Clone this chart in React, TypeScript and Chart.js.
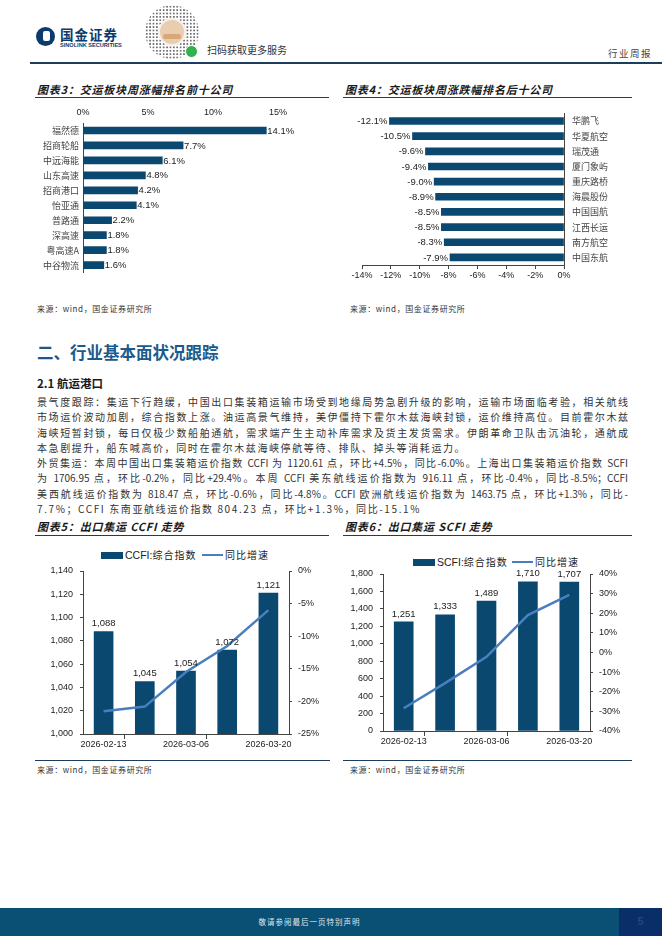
import React, { useEffect, useRef } from 'react';
import { Chart, registerables } from 'chart.js';

Chart.register(...registerables);

// ---------- data ----------
const topCompanies = ['福然德', '招商轮船', '中远海能', '山东高速', '招商港口', '怡亚通', '普路通', '深高速', '粤高速A', '中谷物流'];
const topChanges = [14.1, 7.7, 6.1, 4.8, 4.2, 4.1, 2.2, 1.8, 1.8, 1.6];
const bottomCompanies = ['华鹏飞', '华夏航空', '瑞茂通', '厦门象屿', '重庆路桥', '海晨股份', '中国国航', '江西长运', '南方航空', '中国东航'];
const bottomChanges = [-12.1, -10.5, -9.6, -9.4, -9.0, -8.9, -8.5, -8.5, -8.3, -7.9];
const weeks = ['2026-02-13', '2026-02-27', '2026-03-06', '2026-03-13', '2026-03-20'];
const ccfiIndex = [1088, 1045, 1054, 1072, 1121];
const ccfiYoY = [-21.5, -20.8, -15.5, -11.5, -6.0];
const scfiIndex = [1251, 1333, 1489, 1710, 1707];
const scfiYoY = [-28.4, -15.6, -2.2, 19.1, 29.4];

// ---------- styles ----------
const BAR = '#0b4870';
const LINE = '#4a7fbf';
const AXIS = '#444';
const CJK = '"Noto Sans CJK SC", sans-serif';
const NUM = '"Liberation Sans", Arial, sans-serif';

const fmtComma = (v: number) => Math.round(v).toLocaleString('en-US');
const fmtPct = (v: number) => v.toFixed(1) + '%';

function makeLabelPlugin(id: string, mode: 'top' | 'right' | 'left', offset: number, fmt: (v: number) => string) {
  return {
    id,
    afterDatasetsDraw(chart: any) {
      const ctx = chart.ctx;
      const meta = chart.getDatasetMeta(0);
      const ds = chart.data.datasets[0];
      ctx.save();
      ctx.font = '9.5px ' + NUM;
      ctx.fillStyle = '#222';
      meta.data.forEach((el: any, i: number) => {
        const v = ds.data[i] as number;
        const t = fmt(v);
        const p = el.getProps(['x', 'y', 'base'], true);
        if (mode === 'right') {
          ctx.textAlign = 'left';
          ctx.textBaseline = 'middle';
          ctx.fillText(t, p.x + offset, p.y + 0.5);
        } else if (mode === 'left') {
          ctx.textAlign = 'right';
          ctx.textBaseline = 'middle';
          ctx.fillText(t, p.x - offset, p.y + 0.5);
        } else {
          ctx.textAlign = 'center';
          ctx.textBaseline = 'middle';
          ctx.fillText(t, p.x, p.y - offset);
        }
      });
      ctx.restore();
    },
  };
}

function ChartBox({ left, top, width, height, build }: { left: number; top: number; width: number; height: number; build: () => any }) {
  const ref = useRef<HTMLCanvasElement>(null);
  useEffect(() => {
    const chart = new Chart(ref.current as HTMLCanvasElement, build());
    return () => chart.destroy();
  }, []);
  return (
    <div style={{ position: 'absolute', left, top, width, height }}>
      <canvas ref={ref} width={width} height={height} style={{ width, height, display: 'block' }} />
    </div>
  );
}

const tickFont = { family: NUM, size: 9 };
const cjkFont = { family: CJK, size: 9 };

function buildTop() {
  return {
    type: 'bar',
    data: {
      labels: topCompanies,
      datasets: [{ data: topChanges, backgroundColor: BAR, barThickness: 7 }],
    },
    plugins: [makeLabelPlugin('lblTop', 'right', 1, fmtPct)],
    options: {
      indexAxis: 'y',
      animation: false,
      responsive: false,
      layout: { padding: { right: 32, bottom: 4 } },
      plugins: { legend: { display: false }, tooltip: { enabled: false } },
      scales: {
        x: {
          position: 'top',
          min: 0,
          max: 15,
          ticks: { stepSize: 5, callback: (v: number) => v + '%', font: tickFont, color: '#222', padding: 5 },
          grid: { display: false, drawTicks: false },
          border: { display: false },
          afterFit: (s: any) => { s.height = 23; },
        },
        y: {
          ticks: { font: cjkFont, color: '#444', padding: 4 },
          grid: { display: false, drawTicks: false },
          border: { display: true, color: AXIS, width: 1 },
          afterFit: (s: any) => { s.width = 53; },
        },
      },
    },
  };
}

function buildBottom() {
  return {
    type: 'bar',
    data: {
      labels: bottomCompanies,
      datasets: [{ data: bottomChanges, backgroundColor: BAR, barThickness: 7 }],
    },
    plugins: [makeLabelPlugin('lblBottom', 'left', 2, fmtPct)],
    options: {
      indexAxis: 'y',
      animation: false,
      responsive: false,
      layout: { padding: { left: 22, top: 11 } },
      plugins: { legend: { display: false }, tooltip: { enabled: false } },
      scales: {
        x: {
          position: 'bottom',
          min: -14,
          max: 0,
          ticks: { stepSize: 2, callback: (v: number) => v + '%', font: tickFont, color: '#222', padding: 1 },
          grid: { display: true, drawOnChartArea: false, drawTicks: true, tickLength: 4, color: AXIS },
          border: { display: true, color: AXIS, width: 1 },
          afterFit: (s: any) => { s.height = 20; },
        },
        y: {
          position: 'right',
          ticks: { font: cjkFont, color: '#444', padding: 8 },
          grid: { display: false, drawTicks: false },
          border: { display: true, color: AXIS, width: 1 },
          afterFit: (s: any) => { s.width = 76; },
        },
      },
    },
  };
}

function buildCombo(idx: number[], yoy: number[], opt: {
  yMin: number; yMax: number; yStep: number; r1Min: number; r1Max: number; r1Step: number;
  padTop: number; leftW: number; rightW: number; bottomH: number; xPad: number; id: string;
}) {
  return {
    type: 'bar',
    data: {
      labels: weeks,
      datasets: [
        { type: 'bar', data: idx, yAxisID: 'y', backgroundColor: BAR, barThickness: 19, order: 2 },
        { type: 'line', data: yoy, yAxisID: 'y1', borderColor: LINE, borderWidth: 2.5, pointRadius: 0, tension: 0, order: 1 },
      ],
    },
    plugins: [makeLabelPlugin(opt.id, 'top', 8, fmtComma)],
    options: {
      animation: false,
      responsive: false,
      layout: { padding: { top: opt.padTop } },
      plugins: { legend: { display: false }, tooltip: { enabled: false } },
      scales: {
        x: {
          offset: true,
          ticks: {
            autoSkip: false,
            maxRotation: 0,
            callback: (_v: any, i: number) => (i % 2 === 0 ? weeks[i] : ''),
            font: tickFont,
            color: '#222',
            padding: opt.xPad,
          },
          grid: {
            display: true,
            offset: true,
            drawOnChartArea: false,
            drawTicks: true,
            tickLength: 5,
            color: (c: any) => (c.index === 1 || c.index === 3 ? AXIS : 'rgba(0,0,0,0)'),
          },
          border: { display: true, color: AXIS, width: 1 },
          afterFit: (s: any) => { s.height = opt.bottomH; },
        },
        y: {
          position: 'left',
          min: opt.yMin,
          max: opt.yMax,
          ticks: { stepSize: opt.yStep, callback: (v: number) => fmtComma(v), font: tickFont, color: '#222', padding: 7 },
          grid: { display: true, drawOnChartArea: false, drawTicks: true, tickLength: 3, color: AXIS },
          border: { display: true, color: AXIS, width: 1 },
          afterFit: (s: any) => { s.width = opt.leftW; },
        },
        y1: {
          position: 'right',
          min: opt.r1Min,
          max: opt.r1Max,
          ticks: { stepSize: opt.r1Step, callback: (v: number) => v + '%', font: tickFont, color: '#222', padding: 6 },
          grid: { display: true, drawOnChartArea: false, drawTicks: true, tickLength: 3, color: AXIS },
          border: { display: true, color: AXIS, width: 1 },
          afterFit: (s: any) => { s.width = opt.rightW; },
        },
      },
    },
  };
}

// ---------- page pieces ----------
const abs = (left: number, top: number, extra: React.CSSProperties = {}): React.CSSProperties => ({
  position: 'absolute', left, top, ...extra,
});

function Title({ left, top, children }: { left: number; top: number; children: React.ReactNode }) {
  return (
    <div style={abs(left, top, { fontFamily: CJK, fontSize: 11, lineHeight: '12px', fontWeight: 700, fontStyle: 'italic', letterSpacing: 0.8, color: '#1a1a1a', whiteSpace: 'nowrap' })}>
      {children}
    </div>
  );
}

function HLine({ left, top, width, h = 1.3, color = '#1d3d5f' }: { left: number; top: number; width: number; h?: number; color?: string }) {
  return <div style={abs(left, top, { width, height: h, background: color })} />;
}

function Source({ left, top }: { left: number; top: number }) {
  return (
    <div style={abs(left, top, { fontFamily: CJK, fontSize: 8, lineHeight: '9px', letterSpacing: 0.6, color: '#333', whiteSpace: 'nowrap' })}>
      来源：wind，国金证券研究所
    </div>
  );
}

function Legend({ top, boxLeft, label, lineLeft }: { top: number; boxLeft: number; label: string; lineLeft: number }) {
  const txt: React.CSSProperties = { fontSize: 10.5, lineHeight: '12px', color: '#222', whiteSpace: 'nowrap' };
  return (
    <>
      <div style={abs(boxLeft, top - 3.5, { width: 22, height: 7, background: BAR })} />
      <div style={abs(boxLeft + 24, top - 6, { ...txt, fontFamily: NUM })}>
        {label.split(':')[0]}:<span style={{ fontFamily: CJK, fontSize: 10, letterSpacing: 1 }}>{label.split(':')[1]}</span>
      </div>
      <div style={abs(lineLeft, top - 1.2, { width: 21, height: 2.5, background: LINE })} />
      <div style={abs(lineLeft + 23, top - 6, { ...txt, fontFamily: CJK, fontSize: 10, letterSpacing: 1 })}>同比增速</div>
    </>
  );
}

const para1 = [
  '景气度跟踪：集运下行趋缓，中国出口集装箱运输市场受到地缘局势急剧升级的影响，运输市场面临考验，相关航线',
  '市场运价波动加剧，综合指数上涨。油运高景气维持，美伊僵持下霍尔木兹海峡封锁，运价维持高位。目前霍尔木兹',
  '海峡短暂封锁，每日仅极少数船舶通航，需求端产生主动补库需求及货主发货需求。伊朗革命卫队击沉油轮，通航成',
  '本急剧提升，船东喊高价，同时在霍尔木兹海峡停航等待、排队、掉头等消耗运力。',
];
const para2 = [
  '外贸集运：本周中国出口集装箱运价指数 CCFI 为 1120.61 点，环比+4.5%，同比-6.0%。上海出口集装箱运价指数 SCFI',
  '为 1706.95 点，环比-0.2%，同比+29.4%。本周 CCFI 美东航线运价指数为 916.11 点，环比-0.4%，同比-8.5%；CCFI',
  '美西航线运价指数为 818.47 点，环比-0.6%，同比-4.8%。CCFI 欧洲航线运价指数为 1463.75 点，环比+1.3%，同比-',
  '7.7%；CCFI 东南亚航线运价指数 804.23 点，环比+1.3%，同比-15.1%',
];

function TextLine({ top, text, last }: { top: number; text: string; last: boolean }) {
  return (
    <div
      style={abs(37, top, {
        width: 591,
        fontFamily: CJK,
        fontSize: 10,
        lineHeight: '12px',
        color: '#333',
        whiteSpace: 'nowrap',
        textAlign: last ? 'left' : 'justify',
        textAlignLast: last ? 'left' : 'justify',
        letterSpacing: last ? 1.6 : 0,
      } as React.CSSProperties)}
    >
      {text}
    </div>
  );
}

function QR() {
  return (
    <div style={abs(145, 5, { width: 54, height: 54 })}>
      <div
        style={{
          position: 'absolute', left: 0, top: 0, width: 54, height: 54, borderRadius: '50%',
          backgroundImage: 'radial-gradient(circle, #555 0.9px, rgba(0,0,0,0) 1.3px)',
          backgroundSize: '3.4px 3.4px',
          opacity: 0.85,
        }}
      />
      <div style={{ position: 'absolute', left: 13, top: 13, width: 28, height: 28, borderRadius: '50%', background: '#f6f1ea' }} />
      <div style={{ position: 'absolute', left: 15, top: 15, width: 24, height: 24, borderRadius: '50%', background: '#e9cdb0' }} />
      <div style={{ position: 'absolute', left: 18, top: 29, width: 18, height: 5, borderRadius: 2, background: '#d9a878' }} />
      <div style={{ position: 'absolute', left: 40, top: 40, width: 11, height: 11, borderRadius: '50%', background: '#2fb34a', border: '1px solid #fff' }} />
    </div>
  );
}

const allLines = [...para1.map((t, i) => ({ t, last: i === para1.length - 1 })), ...para2.map((t, i) => ({ t, last: i === para2.length - 1 }))];

export default function App() {
  return (
    <div style={{ position: 'absolute', left: 0, top: 0, width: 662, height: 936, background: '#fff', overflow: 'hidden' }}>
      {/* header */}
      <div style={abs(36, 27, { width: 19, height: 19, borderRadius: '50%', background: '#0b3a6b' })} />
      <div style={abs(43, 31, { width: 7, height: 10, borderRadius: 2, background: '#fff' })} />
      <div style={abs(60, 27, { fontFamily: CJK, fontWeight: 700, fontSize: 13.5, lineHeight: '14px', color: '#0b3a6b', letterSpacing: 1, whiteSpace: 'nowrap' })}>国金证券</div>
      <div style={abs(60, 42, { fontFamily: NUM, fontWeight: 700, fontSize: 5.6, lineHeight: '6px', color: '#0b3a6b', whiteSpace: 'nowrap' })}>SINOLINK SECURITIES</div>
      <QR />
      <div style={abs(207, 44, { fontFamily: CJK, fontSize: 10, lineHeight: '11px', color: '#333', whiteSpace: 'nowrap' })}>扫码获取更多服务</div>
      <div style={abs(608, 48, { fontFamily: CJK, fontSize: 9.5, lineHeight: '10px', color: '#444', letterSpacing: 1.5, whiteSpace: 'nowrap' })}>行业周报</div>
      <HLine left={30} top={62} width={632} h={1.5} />

      {/* charts 3 & 4 */}
      <Title left={37} top={83}>图表3：交运板块周涨幅排名前十公司</Title>
      <HLine left={35} top={97} width={294} />
      <Title left={345} top={83}>图表4：交运板块周涨跌幅排名后十公司</Title>
      <HLine left={343} top={97} width={289} />
      <ChartBox left={30} top={100} width={280} height={182} build={buildTop} />
      <ChartBox left={340} top={100} width={300} height={185} build={buildBottom} />
      <Source left={37} top={304} />
      <Source left={350} top={304} />

      {/* section */}
      <div style={abs(37, 343, { fontFamily: CJK, fontSize: 16.5, lineHeight: '18px', fontWeight: 700, color: '#1b5a8c', whiteSpace: 'nowrap' })}>二、行业基本面状况跟踪</div>
      <div style={abs(37, 377, { fontFamily: CJK, fontSize: 11.5, lineHeight: '12px', fontWeight: 700, color: '#1a1a1a', whiteSpace: 'nowrap' })}>2.1 航运港口</div>
      {allLines.map((l, i) => (
        <TextLine key={i} top={396 + i * 15.25} text={l.t} last={l.last} />
      ))}

      {/* charts 5 & 6 */}
      <Title left={37} top={520}>图表5：出口集运 CCFI 走势</Title>
      <HLine left={35} top={535} width={294} />
      <Title left={345} top={520}>图表6：出口集运 SCFI 走势</Title>
      <HLine left={343} top={535} width={289} />

      <Legend top={555} boxLeft={101} label="CCFI:综合指数" lineLeft={202} />
      <ChartBox
        left={30}
        top={545}
        width={310}
        height={210}
        build={() => buildCombo(ccfiIndex, ccfiYoY, {
          yMin: 1000, yMax: 1140, yStep: 20, r1Min: -25, r1Max: 0, r1Step: 5,
          padTop: 26, leftW: 53, rightW: 51, bottomH: 21, xPad: 0, id: 'lblC',
        })}
      />
      <Legend top={562} boxLeft={413} label="SCFI:综合指数" lineLeft={512} />
      <ChartBox
        left={340}
        top={545}
        width={310}
        height={210}
        build={() => buildCombo(scfiIndex, scfiYoY, {
          yMin: 0, yMax: 1800, yStep: 200, r1Min: -40, r1Max: 40, r1Step: 10,
          padTop: 29, leftW: 43, rightW: 60, bottomH: 24, xPad: 0, id: 'lblS',
        })}
      />
      <HLine left={35} top={760} width={295} />
      <HLine left={343} top={760} width={289} />
      <Source left={37} top={765} />
      <Source left={350} top={765} />

      {/* footer */}
      <div style={abs(0, 908, { width: 619, height: 28, background: '#0a4f74' })} />
      <div style={abs(619, 908, { width: 43, height: 28, background: '#0a2f68' })} />
      <div style={abs(0, 918, { width: 619, textAlign: 'center', fontFamily: CJK, fontSize: 7.5, lineHeight: '8px', color: '#dfe7ef', letterSpacing: 1, whiteSpace: 'nowrap' })}>敬请参阅最后一页特别声明</div>
      <div style={abs(619, 915, { width: 43, textAlign: 'center', fontFamily: NUM, fontSize: 11, lineHeight: '12px', fontWeight: 700, color: '#22477a' })}>5</div>
    </div>
  );
}
